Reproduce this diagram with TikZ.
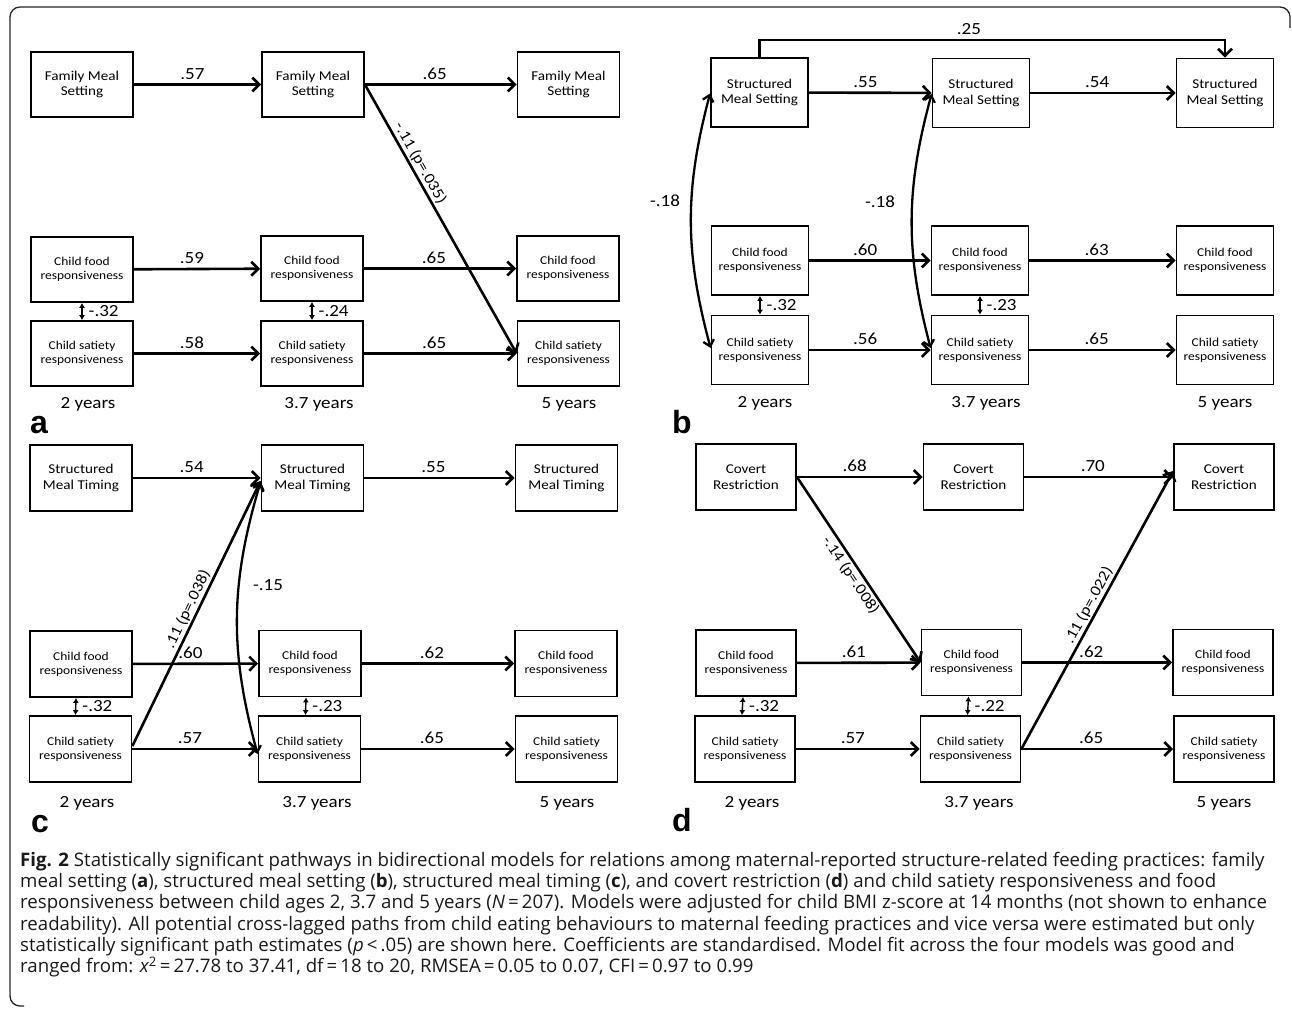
\documentclass[tikz,border=0pt]{standalone}
\usepackage{fontspec}
\usetikzlibrary{arrows.meta}
\newfontfamily\calf[FakeStretch=1.12]{Carlito}
\newfontfamily\capf{Open Sans}
\newfontfamily\letf{Liberation Sans}
\begin{document}
\begin{tikzpicture}[x=1pt,y=-1pt,
  box/.style={draw, line width=1.8pt, align=center, inner sep=0pt, minimum width=102pt, minimum height=65pt},
  tfont/.style={font=\calf\fontsize{13.5}{15.5}\selectfont},
  cfont/.style={font=\calf\fontsize{12}{13.6}\selectfont},
  pth/.style={line width=2.6pt, -{Straight Barb[length=7pt,width=14pt]}},
  cov/.style={line width=1.4pt, {Latex[length=5pt,width=6pt]}-{Latex[length=5pt,width=6pt]}},
  curv/.style={line width=2.3pt, {Straight Barb[length=6pt,width=11pt]}-{Straight Barb[length=6pt,width=11pt]}},
  num/.style={font=\calf\fontsize{17}{20}\selectfont, inner sep=0pt},
  lab/.style={num, above, yshift=4pt, pos=0.46},
  clab/.style={num, anchor=west, xshift=6pt},
  dlab/.style={font=\calf\fontsize{15.5}{18}\selectfont, sloped, inner sep=1.5pt},
  yr/.style={font=\calf\fontsize{17}{20}\selectfont, inner sep=0pt},
  plet/.style={font=\letf\bfseries\fontsize{32}{36}\selectfont, inner sep=0pt, anchor=base west},
  captxt/.style={font=\capf\fontsize{18.65}{21}\selectfont, inner sep=0pt, anchor=base west, text=black!90}
]
\useasboundingbox (0,0) rectangle (1292,1012);
\draw[line width=1.3pt, rounded corners=10pt, black!85] (1290,28) -- (1290,7) -- (10,7) -- (10,1006) -- (24,1006);

% ---------------- Panel a
\node[box,tfont] (a1t) at (82,84.5) {Family Meal\\Setting};
\node[box,tfont] (a2t) at (313,84.5) {Family Meal\\Setting};
\node[box,tfont] (a3t) at (568.5,84.5) {Family Meal\\Setting};
\node[box,cfont] (a1f) at (82,269.5) {Child food\\responsiveness};
\node[box,cfont] (a2f) at (312,268.5) {Child food\\responsiveness};
\node[box,cfont] (a3f) at (568,268.5) {Child food\\responsiveness};
\node[box,cfont] (a1s) at (82,353.5) {Child satiety\\responsiveness};
\node[box,cfont] (a2s) at (312,353.5) {Child satiety\\responsiveness};
\node[box,cfont] (a3s) at (568.5,353.5) {Child satiety\\responsiveness};
\draw[pth] (a1t) -- node[lab]{.57} (a2t);
\draw[pth] (a2t) -- node[lab]{.65} (a3t);
\draw[pth] (a1f) -- node[lab]{.59} (a2f);
\draw[pth] (a2f) -- node[lab]{.65} (a3f);
\draw[pth] (a1s) -- node[lab]{.58} (a2s);
\draw[pth] (a2s) -- node[lab]{.65} (a3s);
\draw[pth] (a2t.east) -- node[dlab,above,pos=0.31]{-.11 (p=.035)} (a3s.west);
\draw[cov] (a1f.south) -- node[clab]{-.32} (a1s.north);
\draw[cov] (a2f.south) -- node[clab]{-.24} (a2s.north);
\node[yr] (ay1) at (88,404) {2 years};
\node[yr] (ay2) at (319,404) {3.7 years};
\node[yr] (ay3) at (569,404) {5 years};
\node[plet] (la) at (30,433) {a};

% ---------------- Panel b
\begin{scope}[box/.append style={minimum width=97pt, minimum height=69pt}]
\node[box,tfont] (b1t) at (759.5,92.5) {Structured\\Meal Setting};
\node[box,tfont] (b2t) at (981,93) {Structured\\Meal Setting};
\node[box,tfont] (b3t) at (1225,93) {Structured\\Meal Setting};
\node[box,cfont] (b1f) at (760,260.5) {Child food\\responsiveness};
\node[box,cfont] (b2f) at (980,260.5) {Child food\\responsiveness};
\node[box,cfont] (b3f) at (1225,260.5) {Child food\\responsiveness};
\node[box,cfont] (b1s) at (760,350) {Child satiety\\responsiveness};
\node[box,cfont] (b2s) at (980,350) {Child satiety\\responsiveness};
\node[box,cfont] (b3s) at (1225,350) {Child satiety\\responsiveness};
\end{scope}
\draw[pth] (b1t) -- node[lab]{.55} (b2t);
\draw[pth] (b2t) -- node[lab]{.54} (b3t);
\draw[pth] (b1f) -- node[lab]{.60} (b2f);
\draw[pth] (b2f) -- node[lab]{.63} (b3f);
\draw[pth] (b1s) -- node[lab]{.56} (b2s);
\draw[pth] (b2s) -- node[lab]{.65} (b3s);
\draw[pth] (b1t.north) -- ++(0,-17) -| node[num,above,yshift=4pt,pos=0.225]{.25} (b3t.north);
\draw[curv] ([yshift=-1pt]b1t.west) to[bend right=15] ([yshift=2pt]b1s.west);
\draw[curv] ([yshift=-1pt]b2t.west) to[bend right=15] ([yshift=2pt]b2s.west);
\node[num] (bc1) at (665,201) {-.18};
\node[num] (bc2) at (880,202) {-.18};
\draw[cov] (b1f.south) -- node[clab]{-.32} (b1s.north);
\draw[cov] (b2f.south) -- node[clab]{-.23} (b2s.north);
\node[yr] (by1) at (765,403) {2 years};
\node[yr] (by2) at (986,403) {3.7 years};
\node[yr] (by3) at (1225,403) {5 years};
\node[plet] (lb) at (672,433) {b};

% ---------------- Panel c
\begin{scope}[box/.append style={minimum width=102pt, minimum height=66pt}]
\node[box,tfont] (c1t) at (81,478) {Structured\\Meal Timing};
\node[box,tfont] (c2t) at (312.5,478) {Structured\\Meal Timing};
\node[box,tfont] (c3t) at (566.5,478) {Structured\\Meal Timing};
\node[box,cfont] (c1f) at (81,664) {Child food\\responsiveness};
\node[box,cfont] (c2f) at (310,663.5) {Child food\\responsiveness};
\node[box,cfont] (c3f) at (566,663.5) {Child food\\responsiveness};
\node[box,cfont] (c1s) at (80.5,749) {Child satiety\\responsiveness};
\node[box,cfont] (c2s) at (309.5,749) {Child satiety\\responsiveness};
\node[box,cfont] (c3s) at (566.5,749) {Child satiety\\responsiveness};
\end{scope}
\draw[pth] (c1t) -- node[lab]{.54} (c2t);
\draw[pth] (c2t) -- node[lab]{.55} (c3t);
\draw[pth] (c1f) -- node[lab]{.60} (c2f);
\draw[pth] (c2f) -- node[lab]{.62} (c3f);
\draw[pth] (c1s) -- node[lab]{.57} (c2s);
\draw[pth] (c2s) -- node[lab]{.65} (c3s);
\draw[pth] ([yshift=3pt]c1s.east) -- node[dlab,above,pos=0.5]{.11 (p=.038)} ([yshift=-3pt]c2t.west);
\draw[curv] ([yshift=-4pt]c2t.west) to[bend right=16] ([yshift=-5pt]c2s.west);
\node[num] (cc1) at (268,585) {-.15};
\draw[cov] ([xshift=-5pt]c1f.south) -- node[clab]{-.32} ([xshift=-5pt]c1s.north);
\draw[cov] ([xshift=-4pt]c2f.south) -- node[clab]{-.23} ([xshift=-4pt]c2s.north);
\node[yr] (cy1) at (87,803) {2 years};
\node[yr] (cy2) at (317,803) {3.7 years};
\node[yr] (cy3) at (567,803) {5 years};
\node[plet] (lc) at (31,832) {c};

% ---------------- Panel d
\begin{scope}[box/.append style={minimum width=100pt, minimum height=66pt}]
\node[box,tfont] (d1t) at (746,477) {Covert\\Restriction};
\node[box,tfont] (d2t) at (973.5,477) {Covert\\Restriction};
\node[box,tfont] (d3t) at (1224,477) {Covert\\Restriction};
\node[box,cfont] (d1f) at (746,663) {Child food\\responsiveness};
\node[box,cfont] (d2f) at (971.5,662.5) {Child food\\responsiveness};
\node[box,cfont] (d3f) at (1223,662.5) {Child food\\responsiveness};
\node[box,cfont] (d1s) at (745,749) {Child satiety\\responsiveness};
\node[box,cfont] (d2s) at (970.5,749) {Child satiety\\responsiveness};
\node[box,cfont] (d3s) at (1224,749) {Child satiety\\responsiveness};
\end{scope}
\draw[pth] (d1t) -- node[lab]{.68} (d2t);
\draw[pth] (d2t) -- node[lab]{.70} (d3t);
\draw[pth] (d1f) -- node[lab]{.61} (d2f);
\draw[pth] (d2f) -- node[lab]{.62} (d3f);
\draw[pth] (d1s) -- node[lab]{.57} (d2s);
\draw[pth] (d2s) -- node[lab]{.65} (d3s);
\draw[pth] (d1t.east) -- node[dlab,below,pos=0.5]{-.14 (p=.008)} (d2f.west);
\draw[pth] (d2s.east) -- node[dlab,above,pos=0.5]{.11 (p=.022)} ([yshift=6pt]d3t.west);
\draw[cov] ([xshift=-3pt]d1f.south) -- node[clab]{-.32} ([xshift=-3pt]d1s.north);
\draw[cov] ([xshift=-3pt]d2f.south) -- node[clab]{-.22} ([xshift=-3pt]d2s.north);
\node[yr] (dy1) at (752,803) {2 years};
\node[yr] (dy2) at (979,803) {3.7 years};
\node[yr] (dy3) at (1224,803) {5 years};
\node[plet] (ld) at (672,831) {d};

% ---------------- Caption
\node[captxt] (cap1) at (20,866.5) {{\bfseries Fig. 2} Statistically significant pathways in bidirectional models for relations among maternal-reported structure-related feeding practices: family};
\node[captxt] (cap2) at (20,887.7) {meal setting ({\bfseries a}), structured meal setting ({\bfseries b}), structured meal timing ({\bfseries c}), and covert restriction ({\bfseries d}) and child satiety responsiveness and food};
\node[captxt] (cap3) at (20,908.9) {responsiveness between child ages 2, 3.7 and 5 years ({\itshape N}\,=\,207). Models were adjusted for child BMI z-score at 14 months (not shown to enhance};
\node[captxt] (cap4) at (20,930.1) {readability). All potential cross-lagged paths from child eating behaviours to maternal feeding practices and vice versa were estimated but only};
\node[captxt] (cap5) at (20,951.3) {statistically significant path estimates ({\itshape p}\,<\,.05) are shown here. Coefficients are standardised. Model fit across the four models was good and};
\node[captxt] (cap6) at (20,972.5) {ranged from: {\itshape x}\textsuperscript{2}\,=\,27.78 to 37.41, df\,=\,18 to 20, RMSEA\,=\,0.05 to 0.07, CFI\,=\,0.97 to 0.99};
\end{tikzpicture}
\end{document}
